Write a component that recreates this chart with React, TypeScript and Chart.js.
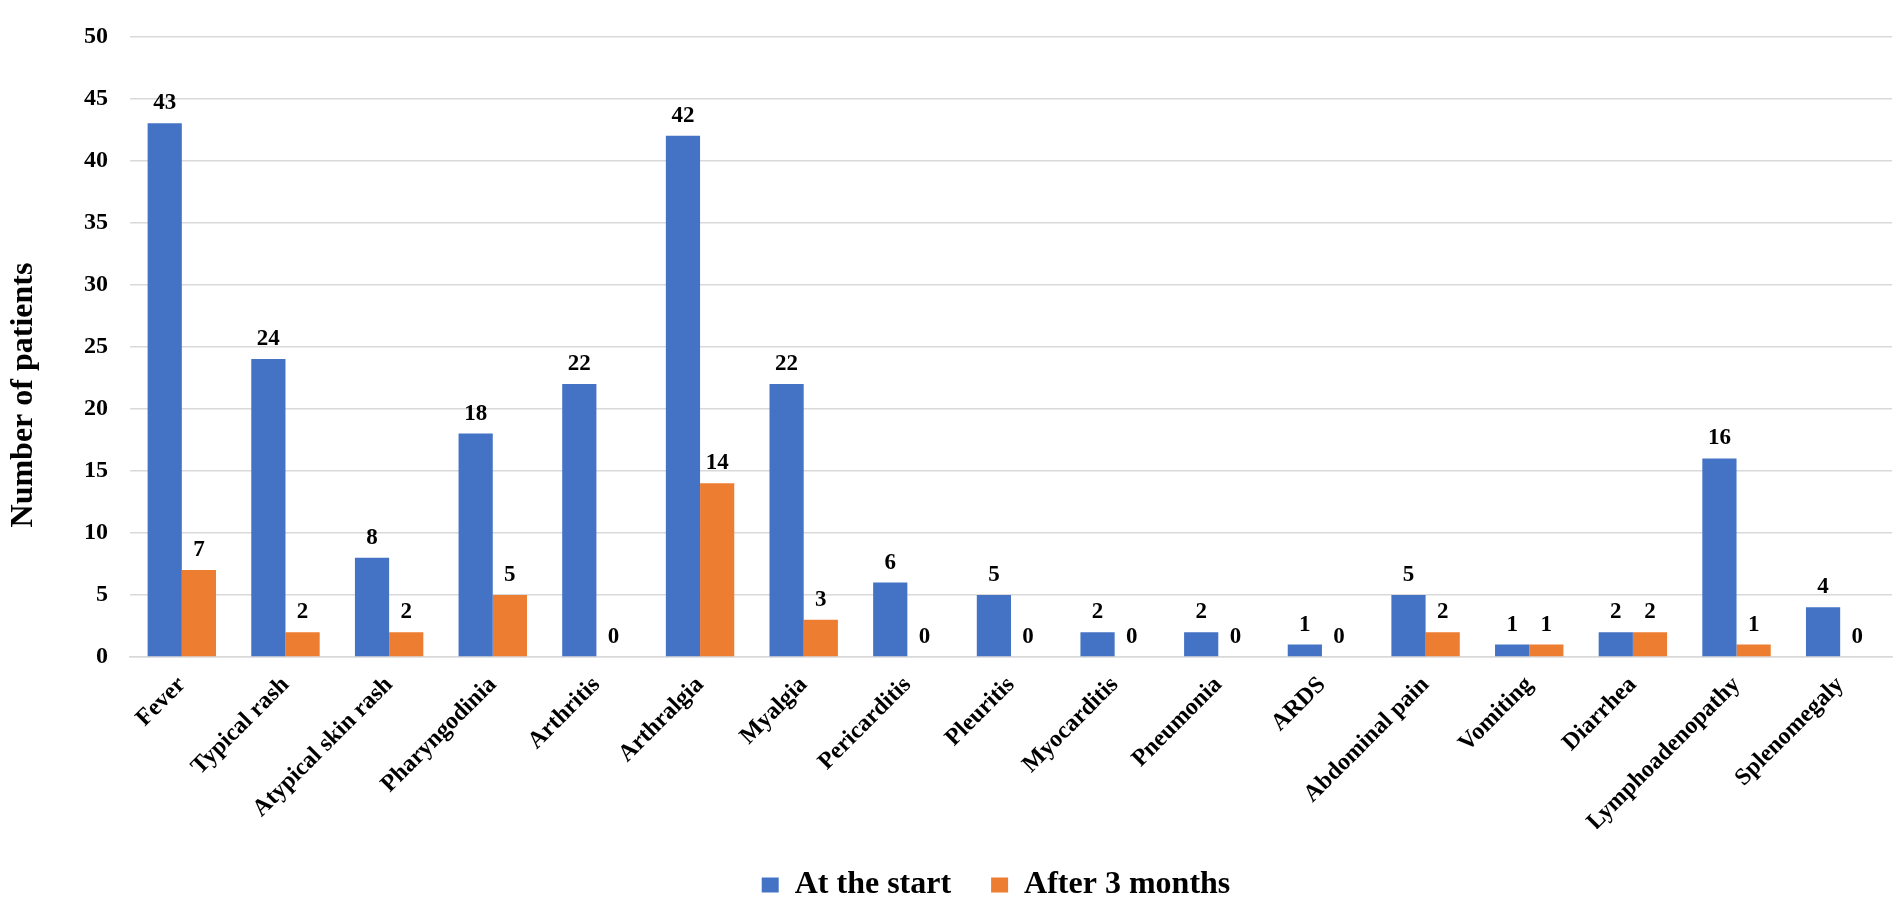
import React, { useEffect, useRef } from "react";
import { Chart, registerables } from "chart.js";

Chart.register(...registerables);

const categories = [
  "Fever",
  "Typical rash",
  "Atypical skin rash",
  "Pharyngodinia",
  "Arthritis",
  "Arthralgia",
  "Myalgia",
  "Pericarditis",
  "Pleuritis",
  "Myocarditis",
  "Pneumonia",
  "ARDS",
  "Abdominal pain",
  "Vomiting",
  "Diarrhea",
  "Lymphoadenopathy",
  "Splenomegaly",
];

const atTheStart = [43, 24, 8, 18, 22, 42, 22, 6, 5, 2, 2, 1, 5, 1, 2, 16, 4];
const after3Months = [7, 2, 2, 5, 0, 14, 3, 0, 0, 0, 0, 0, 2, 1, 2, 1, 0];

const seriesNames = ["At the start", "After 3 months"];
const yTitle = "Number of patients";

const FONT = '"Liberation Serif", "Times New Roman", serif';

const valueLabels = {
  id: "valueLabels",
  afterDatasetsDraw(chart: any) {
    const ctx = chart.ctx;
    ctx.save();
    ctx.font = `bold 23px ${FONT}`;
    ctx.fillStyle = "#000";
    ctx.textAlign = "center";
    ctx.textBaseline = "alphabetic";
    chart.data.datasets.forEach((ds: any, i: number) => {
      const meta = chart.getDatasetMeta(i);
      meta.data.forEach((bar: any, j: number) => {
        ctx.fillText(String(ds.data[j]), bar.x, bar.y - 14);
      });
    });
    ctx.restore();
  },
};

const yTitlePlugin = {
  id: "yTitlePlugin",
  afterDraw(chart: any) {
    const ctx = chart.ctx;
    ctx.save();
    ctx.font = `bold 32px ${FONT}`;
    ctx.fillStyle = "#000";
    ctx.textAlign = "center";
    ctx.textBaseline = "middle";
    ctx.translate(24, 395);
    ctx.rotate(-Math.PI / 2);
    ctx.fillText(yTitle, 0, 0);
    ctx.restore();
  },
};

const legendShift = {
  id: "legendShift",
  afterLayout(chart: any) {
    if (chart.legend) {
      chart.legend.left = chart.legend.left - 30;
    }
  },
};

export default function App() {
  const ref = useRef<HTMLCanvasElement | null>(null);

  useEffect(() => {
    document.body.style.margin = "0";
    if (!ref.current) return;
    const chart = new Chart(ref.current, {
      type: "bar",
      data: {
        labels: categories,
        datasets: [
          {
            label: seriesNames[0],
            data: atTheStart,
            backgroundColor: "#4472C4",
            categoryPercentage: 0.66,
            barPercentage: 1,
          },
          {
            label: seriesNames[1],
            data: after3Months,
            backgroundColor: "#ED7D31",
            categoryPercentage: 0.66,
            barPercentage: 1,
          },
        ],
      },
      options: {
        animation: false,
        responsive: false,
        devicePixelRatio: 1,
        layout: { padding: { top: 17, right: 10, left: 0, bottom: -7 } },
        plugins: {
          tooltip: { enabled: false },
          legend: {
            position: "bottom",
            fullSize: false,
            labels: {
              boxWidth: 17,
              boxHeight: 15,
              padding: 40,
              color: "#000",
              font: { family: FONT, size: 32, weight: "bold" },
            },
          },
        },
        scales: {
          x: {
            grid: { display: false },
            border: { display: true, color: "#d9d9d9", width: 1.5 },
            ticks: {
              color: "#000",
              font: { family: FONT, size: 24, weight: "bold" },
              minRotation: 45,
              maxRotation: 45,
              autoSkip: false,
              padding: 6,
            },
            afterFit(scale: any) {
              scale.height = 172;
            },
          },
          y: {
            min: 0,
            max: 50,
            ticks: {
              stepSize: 5,
              color: "#000",
              padding: 22,
              font: { family: FONT, size: 24, weight: "bold" },
            },
            grid: { color: "#d9d9d9", lineWidth: 1.5, drawTicks: false },
            border: { display: false },
            afterFit(scale: any) {
              scale.width = 130;
            },
          },
        },
      },
      plugins: [valueLabels, yTitlePlugin, legendShift],
    });
    return () => chart.destroy();
  }, []);

  return (
    <div style={{ width: 1902, height: 904, background: "#fff" }}>
      <canvas ref={ref} width={1902} height={904} />
    </div>
  );
}
